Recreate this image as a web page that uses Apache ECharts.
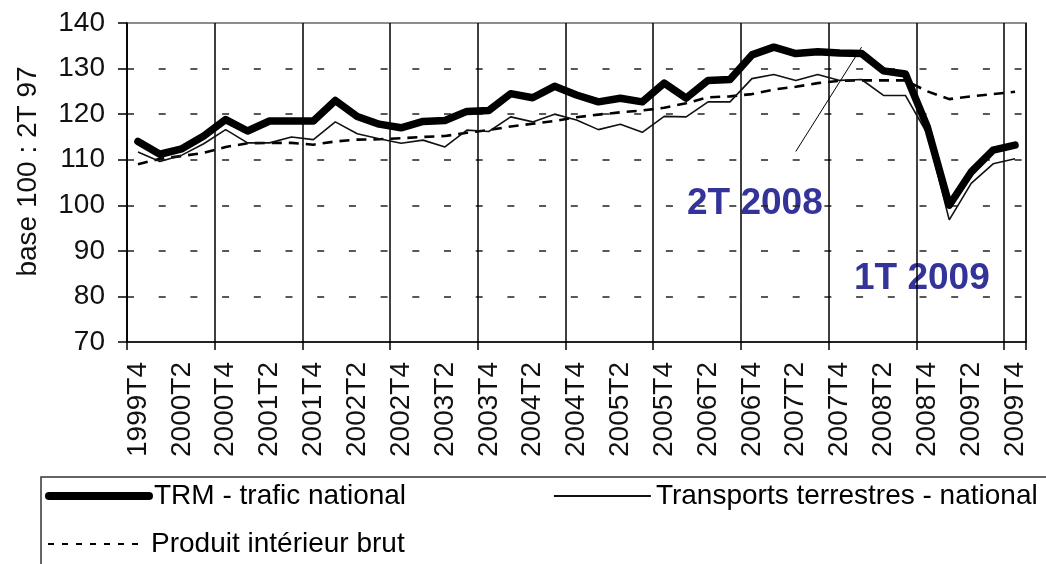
<!DOCTYPE html>
<html><head><meta charset="utf-8">
<script src="https://cdn.jsdelivr.net/npm/echarts@6/dist/echarts.min.js"></script>
<style>html,body{margin:0;padding:0;background:#fff}#c{width:1046px;height:564px}</style>
</head><body><div id="c"></div>
<script>
const categories = ['1999T4','2000T1','2000T2','2000T3','2000T4','2001T1','2001T2','2001T3','2001T4',
  '2002T1','2002T2','2002T3','2002T4','2003T1','2003T2','2003T3','2003T4','2004T1','2004T2','2004T3','2004T4',
  '2005T1','2005T2','2005T3','2005T4','2006T1','2006T2','2006T3','2006T4','2007T1','2007T2','2007T3','2007T4',
  '2008T1','2008T2','2008T3','2008T4','2009T1','2009T2','2009T3','2009T4'];
const trm = [114.0,111.2,112.4,115.2,118.8,116.3,118.5,118.5,118.5,123.0,119.5,117.8,117.0,118.4,118.6,120.6,120.8,
  124.5,123.6,126.1,124.2,122.7,123.5,122.7,126.8,123.5,127.4,127.6,133.0,134.7,133.3,133.7,133.4,133.3,129.5,128.8,
  117.2,100.0,107.3,112.1,113.2];
const terrestres = [111.7,109.6,111.0,113.5,116.6,113.7,113.7,115.0,114.4,118.3,115.7,114.6,113.6,114.3,112.8,116.5,116.2,
  119.4,118.3,120.0,118.7,116.6,117.8,116.0,119.5,119.4,122.7,122.7,127.8,128.7,127.4,128.7,127.4,127.6,124.1,124.1,
  115.7,96.8,104.8,109.1,110.2];
const pib = [109.0,110.2,110.8,111.5,112.8,113.6,113.7,113.7,113.3,114.0,114.4,114.5,114.7,115.0,115.2,115.9,116.5,
  117.3,117.9,118.5,119.3,119.9,120.4,120.8,121.4,122.4,123.7,123.9,124.4,125.4,126.0,126.8,127.3,127.4,127.4,127.4,
  125.0,123.3,123.9,124.4,124.9];
const seriesNames = ['TRM - trafic national','Transports terrestres - national','Produit intérieur brut'];
const yAxisName = 'base 100 : 2T 97';
const yMin = 70, yMax = 140, yStep = 10;
const annotations = ['2T 2008','1T 2009'];
const pointer = [[30, 111.8], [33, 134.7]];

const FONT = 'Liberation Sans, Arial, sans-serif';
const FS = 28;
const chart = echarts.init(document.getElementById('c'), null, {renderer:'canvas'});
const legendText = {fontSize:FS, color:'#000', fontFamily:FONT};
chart.setOption({
  animation:false,
  backgroundColor:'#fff',
  grid:{left:127, top:23, width:899, height:319, show:true, borderColor:'#8c8c8c', borderWidth:2, backgroundColor:'#fff'},
  xAxis:{
    type:'category', data:categories, boundaryGap:true,
    axisLine:{lineStyle:{color:'#000', width:1.5}},
    axisTick:{show:true, length:8, interval:(i)=>i%4===0, lineStyle:{color:'#000', width:1.5}},
    splitLine:{show:true, interval:(i)=>i%4===0, lineStyle:{color:'#000', width:1.5}},
    axisLabel:{rotate:90, margin:20, interval:(i)=>i%2===0, fontSize:FS, color:'#111', fontFamily:FONT}
  },
  yAxis:{
    type:'value', min:yMin, max:yMax, interval:yStep,
    name:yAxisName, nameLocation:'middle', nameGap:85,
    nameTextStyle:{fontSize:FS, color:'#111', fontFamily:FONT, padding:[0,0,0,22]},
    axisLine:{show:true, lineStyle:{color:'#000', width:1.5}},
    axisTick:{show:true, length:9, lineStyle:{color:'#000', width:1.5}},
    splitLine:{show:true, showMinLine:false, showMaxLine:false, lineStyle:{color:'#222', width:1.5, type:[7,24.7]}},
    axisLabel:{margin:22, fontSize:FS, color:'#111', fontFamily:FONT}
  },
  legend:[
    {data:[seriesNames[0]], left:45, top:482, padding:0, itemWidth:100, itemHeight:14, selectedMode:false,
     textStyle:legendText, itemStyle:{opacity:0}, lineStyle:{width:8, cap:'round'}},
    {data:[seriesNames[1]], left:553, top:482, padding:0, itemWidth:97, itemHeight:14, selectedMode:false,
     textStyle:legendText, itemStyle:{opacity:0}, lineStyle:{width:1.8}},
    {data:[seriesNames[2]], left:47, top:530, padding:0, itemWidth:98, itemHeight:14, selectedMode:false,
     textStyle:legendText, itemStyle:{opacity:0}, lineStyle:{width:2, type:[6,8]}}
  ],
  series:[
    {name:seriesNames[2], type:'line', data:pib, symbol:'none', silent:true,
     itemStyle:{color:'#000'}, lineStyle:{color:'#000', width:2.6, type:[10,7]}},
    {name:seriesNames[1], type:'line', data:terrestres, symbol:'none', silent:true,
     itemStyle:{color:'#000'}, lineStyle:{color:'#111', width:1.6}},
    {name:seriesNames[0], type:'line', data:trm, symbol:'none', silent:true,
     itemStyle:{color:'#000'}, lineStyle:{color:'#000', width:7.5, cap:'round', join:'round'},
     markLine:{silent:true, symbol:['none','none'], label:{show:false},
       lineStyle:{color:'#000', width:1, type:'solid'},
       data:[[{coord:pointer[0]},{coord:pointer[1]}]]}}
  ],
  graphic:[
    {type:'rect', shape:{x:41, y:477, width:1030, height:120}, style:{fill:'none', stroke:'#333', lineWidth:1.5}, silent:true},
    {type:'text', left:687, top:185, style:{text:annotations[0], fontSize:37, fontWeight:'bold', fill:'#333399', fontFamily:FONT}},
    {type:'text', left:854, top:260, style:{text:annotations[1], fontSize:37, fontWeight:'bold', fill:'#333399', fontFamily:FONT}}
  ]
});
</script></body></html>
